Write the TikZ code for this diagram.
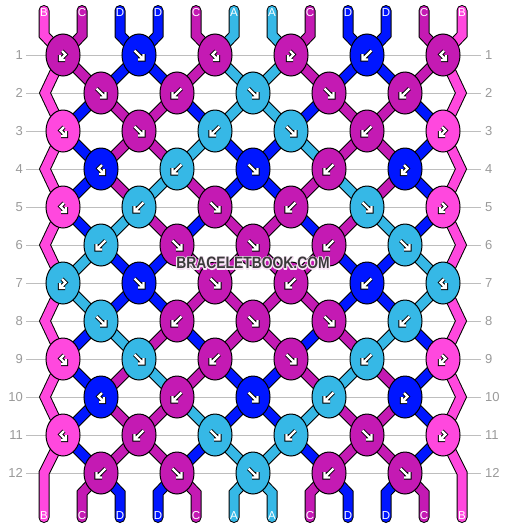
\documentclass[tikz,border=0pt]{standalone}
\usepackage{fontspec}
\setmainfont{Liberation Sans}
\usetikzlibrary{shapes.geometric}
\pgfdeclarelayer{bg0}
\pgfdeclarelayer{bg1}
\pgfsetlayers{bg0,bg1,main}
\definecolor{strA}{HTML}{36B8E6}
\definecolor{strB}{HTML}{FF48DE}
\definecolor{strC}{HTML}{C41AB3}
\definecolor{strD}{HTML}{0016FF}
\definecolor{gridgray}{HTML}{BEBEBE}
\definecolor{labgray}{HTML}{9A9A9A}
\definecolor{wmgray}{HTML}{3A3A3A}
\tikzset{
  knot/.style={ellipse, draw=black, line width=1pt, minimum width=34pt, minimum height=42pt, inner sep=0pt},
  strand/.style={draw=black, double=#1, double distance=9pt, line width=1pt, line join=miter},
  arrowout/.style={draw=black, line width=4.2pt, line cap=butt, line join=miter},
  arrowin/.style={draw=white, line width=2.2pt, line cap=butt, line join=miter},
  rowline/.style={draw=gridgray, line width=1pt},
  rowlab/.style={text=labgray, font=\fontsize{13}{13}\selectfont, inner sep=0pt},
  strlab/.style={text=white, font=\fontsize{11.5}{12}\selectfont, inner sep=0pt},
  wmtext/.style={font=\fontsize{16.5}{16.5}\selectfont\bfseries, inner sep=0pt},
}
\newcommand\glyphdraw[2]{\draw[arrowout,shift={(#1)}] #2;\draw[arrowin,shift={(#1)}] #2;}
\newcommand\glyphF[1]{\glyphdraw{#1}{(-4.5,-4.5) -- (4.5,4.5) (4.5,-1) -- (4.5,4.5) -- (-1,4.5)}}
\newcommand\glyphB[1]{\glyphdraw{#1}{(4.5,-4.5) -- (-4.5,4.5) (-4.5,-1) -- (-4.5,4.5) -- (1,4.5)}}
\newcommand\glyphGa[1]{\glyphdraw{#1}{(-1,-4) -- (2.5,-0.5) -- (-3,5) (-3,0) -- (-3,5) -- (2,5)}}
\newcommand\glyphGb[1]{\glyphdraw{#1}{(1,-4) -- (-2.5,-0.5) -- (3,5) (3,0) -- (3,5) -- (-2,5)}}
\newcommand\wmword{\scalebox{0.84}[1]{BRACELETBOOK.COM}}
\newcommand\wmhalo{\rlap{\special{pdf:literal direct 1 Tr 2.6 w 0.97 0.9 0.96 RG 1 j}\wmword\special{pdf:literal direct 0 Tr}}\wmword}
\begin{document}
\begin{tikzpicture}[x=1pt,y=-1pt]
\useasboundingbox (0,0) rectangle (506,528);
\begin{pgfonlayer}{bg0}
  \fill[white] (0,0) rectangle (506,528);
\end{pgfonlayer}

% coordinates for string ends and edge bends
\foreach \p in {1,...,12} {
  \pgfmathsetmacro\xx{44+38*(\p-1)}
  \coordinate (top-\p) at (\xx,10.5);
  \coordinate (topb-\p) at (\xx,35);
  \coordinate (botb-\p) at (\xx,493);
  \coordinate (bot-\p) at (\xx,517.5);
}
\foreach \r in {2,4,...,10} {
  \pgfmathsetmacro\yy{55+38*(\r-1)}
  \coordinate (eL-\r) at (45,\yy);
  \coordinate (eR-\r) at (461,\yy);
}
\coordinate (eL-12) at (44,473);
\coordinate (eR-12) at (462,473);

% row lines and labels
\foreach \r in {1,...,12} {
  \pgfmathsetmacro\yy{55+38*(\r-1)}
  \coordinate (gl-a-\r) at (26,\yy);
  \coordinate (gl-b-\r) at (481,\yy);
  \begin{pgfonlayer}{bg0}
    \draw[rowline] (gl-a-\r) -- (gl-b-\r);
  \end{pgfonlayer}
  \node[rowlab, anchor=east] (rl-\r) at (23,\yy) {\r};
  \node[rowlab, anchor=west] (rr-\r) at (485,\yy) {\r};
}

% knots
\foreach \r/\list in {
  1/{C/Ga,D/F,C/Gb,C/Ga,D/B,C/Gb},
  2/{C/F,C/B,A/F,C/F,C/B},
  3/{B/Gb,C/F,A/B,A/F,C/B,B/Ga},
  4/{D/Gb,A/B,D/F,C/B,D/Ga},
  5/{B/Gb,A/B,C/F,C/B,A/F,B/Ga},
  6/{A/B,C/F,C/F,C/B,A/F},
  7/{A/Ga,D/F,C/F,C/B,D/B,A/Gb},
  8/{A/F,C/B,C/F,C/F,A/B},
  9/{B/Gb,A/F,C/B,C/F,A/B,B/Ga},
  10/{D/Gb,C/B,D/F,A/B,D/Ga},
  11/{B/Gb,C/B,A/F,A/B,C/F,B/Ga},
  12/{C/B,C/F,A/F,C/B,C/F}} {
  \pgfmathsetmacro\yy{55+38*(\r-1)}
  \pgfmathtruncatemacro\odd{mod(\r,2)}
  \pgfmathsetmacro\xs{\odd==1 ? 63 : 101}
  \foreach \c/\g [count=\i] in \list {
    \node[knot, fill=str\c] (k-\r-\i) at ({\xs+76*(\i-1)},\yy) {};
    \csname glyph\g\endcsname{k-\r-\i}
  }
}

% strands between knots
\begin{pgfonlayer}{bg1}
\foreach \L/\list in {
  1/{B,C,D,D,C,A,A,C,D,D,C,B},
  2/{B,D,C,C,D,A,A,D,C,C,D,B},
  3/{B,D,C,C,A,D,D,A,C,C,D,B},
  4/{B,D,C,A,C,D,D,C,A,C,D,B},
  5/{B,D,A,C,D,C,C,D,C,A,D,B},
  6/{B,A,D,D,C,C,C,C,D,D,A,B},
  7/{B,A,D,D,C,C,C,C,D,D,A,B},
  8/{B,D,A,C,D,C,C,D,C,A,D,B},
  9/{B,D,C,A,C,D,D,C,A,C,D,B},
  10/{B,D,C,C,A,D,D,A,C,C,D,B},
  11/{B,D,C,C,D,A,A,D,C,C,D,B}} {
  \pgfmathtruncatemacro\Lp{\L+1}
  \pgfmathtruncatemacro\odd{mod(\L,2)}
  \foreach \c [count=\p] in \list {
    \ifnum\p>1 \ifnum\p<12
      \pgfmathtruncatemacro\io{int((\p-1)/2)+1}
      \pgfmathtruncatemacro\ie{int((\p-2)/2)+1}
      \ifnum\odd=1
        \draw[strand=str\c] (k-\L-\io.center) -- (k-\Lp-\ie.center);
      \else
        \draw[strand=str\c] (k-\L-\ie.center) -- (k-\Lp-\io.center);
      \fi
    \fi\fi
  }
}
% top and bottom strands
\foreach \c [count=\p] in {B,C,D,D,C,A,A,C,D,D,C,B} {
  \ifnum\p>1 \ifnum\p<12
    \pgfmathtruncatemacro\io{int((\p-1)/2)+1}
    \pgfmathtruncatemacro\ie{int((\p-2)/2)+1}
    \draw[strand=str\c, line cap=round] (top-\p) -- (topb-\p) -- (k-1-\io.center);
    \draw[strand=str\c, line cap=round] (k-12-\ie.center) -- (botb-\p) -- (bot-\p);
  \fi\fi
}
% edge strands
\draw[strand=strB, line cap=round] (top-1) -- (topb-1)
  \foreach \r/\e in {1/2,3/4,5/6,7/8,9/10,11/12} { -- (k-\r-1.center) -- (eL-\e) } -- (bot-1);
\draw[strand=strB, line cap=round] (top-12) -- (topb-12)
  \foreach \r/\e in {1/2,3/4,5/6,7/8,9/10,11/12} { -- (k-\r-6.center) -- (eR-\e) } -- (bot-12);
\end{pgfonlayer}

% string letters
\foreach \c [count=\p] in {B,C,D,D,C,A,A,C,D,D,C,B} {
  \pgfmathsetmacro\xx{44+38*(\p-1)}
  \node[strlab] (tl-\p) at (\xx,12.5) {\c};
  \node[strlab] (bl-\p) at (\xx,516) {\c};
}

% watermark
\node[wmtext, text=wmgray] (wm) at (253,263) {\wmhalo};
\end{tikzpicture}
\end{document}
